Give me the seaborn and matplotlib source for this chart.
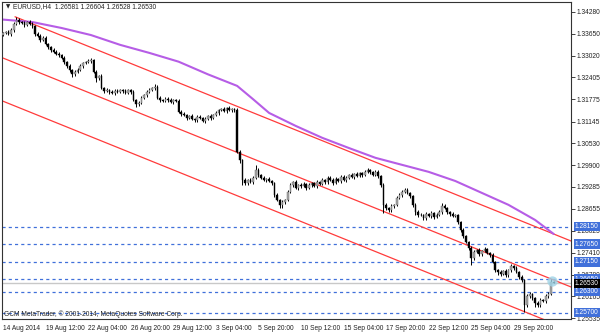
import matplotlib
matplotlib.use("Agg")
import matplotlib.pyplot as plt
import matplotlib.transforms as mtransforms
import numpy as np
import pandas as pd
import seaborn as sns

# ---------------- data ----------------
symbol_text = "EURUSD,H4  1.26581 1.26604 1.26528 1.26530"
copyright_text = "GCM MetaTrader, \u00a9 2001-2014, MetaQuotes Software Corp."

first_open = 1.3362
closes = [
    1.3367, 1.3370, 1.3364, 1.3375, 1.3393, 1.3404, 1.3398, 1.3395, 1.3390, 1.3398, 1.3393, 1.3387, 1.3364, 1.3358, 1.3347, 1.3353,
    1.3336, 1.3327, 1.3318, 1.3313, 1.3307, 1.3304, 1.3296, 1.3284, 1.3273, 1.3261, 1.3250, 1.3256, 1.3261, 1.3273, 1.3281, 1.3284,
    1.3287, 1.3290, 1.3256, 1.3239, 1.3244, 1.3210, 1.3202, 1.3204, 1.3199, 1.3196, 1.3202, 1.3199, 1.3204, 1.3202, 1.3196, 1.3204,
    1.3199, 1.3176, 1.3165, 1.3167, 1.3182, 1.3190, 1.3199, 1.3204, 1.3210, 1.3213, 1.3182, 1.3176, 1.3173, 1.3179, 1.3176, 1.3170,
    1.3176, 1.3173, 1.3142, 1.3136, 1.3133, 1.3125, 1.3130, 1.3122, 1.3119, 1.3128, 1.3125, 1.3116, 1.3122, 1.3130, 1.3125, 1.3133,
    1.3139, 1.3147, 1.3150, 1.3145, 1.3153, 1.3147, 1.3150, 1.3147, 1.3028, 1.3005, 1.2948, 1.2939, 1.2948, 1.2942, 1.2954, 1.2976,
    1.2962, 1.2954, 1.2948, 1.2951, 1.2945, 1.2939, 1.2905, 1.2891, 1.2877, 1.2885, 1.2891, 1.2914, 1.2934, 1.2942, 1.2925, 1.2934,
    1.2931, 1.2937, 1.2925, 1.2934, 1.2939, 1.2931, 1.2942, 1.2937, 1.2948, 1.2942, 1.2954, 1.2948, 1.2939, 1.2951, 1.2945, 1.2957,
    1.2948, 1.2954, 1.2962, 1.2957, 1.2965, 1.2959, 1.2968, 1.2962, 1.2971, 1.2976, 1.2971, 1.2962, 1.2971, 1.2959, 1.2934, 1.2877,
    1.2868, 1.2862, 1.2874, 1.2877, 1.2897, 1.2905, 1.2914, 1.2919, 1.2911, 1.2902, 1.2877, 1.2857, 1.2848, 1.2848, 1.2840, 1.2851,
    1.2845, 1.2854, 1.2843, 1.2848, 1.2857, 1.2874, 1.2868, 1.2857, 1.2851, 1.2845, 1.2848, 1.2828, 1.2805, 1.2788, 1.2771, 1.2754,
    1.2726, 1.2743, 1.2748, 1.2737, 1.2746, 1.2751, 1.2740, 1.2734, 1.2714, 1.2691, 1.2686, 1.2680, 1.2688, 1.2677, 1.2691, 1.2703,
    1.2697, 1.2686, 1.2672, 1.2663, 1.2592, 1.2617, 1.2623, 1.2612, 1.2597, 1.2592, 1.2606, 1.2603, 1.2617, 1.2623, 1.2658, 1.2653,
]
upper_wick_pips = [
    4, 3, 5, 6, 4, 9, 5, 4, 6, 3, 5, 4, 3, 5, 6, 4,
    5, 3, 4, 6, 4, 5, 3, 6, 4, 5, 3, 4, 6, 5, 4, 3,
    5, 6, 4, 5, 3, 6, 4, 5, 3, 6, 4, 5, 4, 3, 5, 4,
    3, 6, 4, 5, 4, 3, 5, 6, 4, 9, 5, 4, 3, 6, 4, 5,
    4, 3, 6, 4, 5, 3, 4, 6, 3, 5, 4, 3, 6, 4, 5, 4,
    5, 4, 3, 6, 4, 5, 3, 4, 5, 6, 4, 5, 3, 6, 4, 15,
    5, 4, 6, 3, 5, 4, 3, 5, 4, 6, 4, 5, 6, 4, 5, 3,
    4, 6, 3, 5, 4, 3, 6, 4, 5, 3, 4, 6, 5, 4, 3, 5,
    4, 5, 3, 6, 4, 5, 3, 4, 6, 5, 4, 3, 5, 4, 3, 4,
    5, 4, 6, 3, 5, 6, 4, 5, 6, 3, 4, 5, 4, 6, 3, 5,
    4, 5, 3, 6, 4, 7, 5, 4, 3, 5, 4, 3, 4, 5, 3, 4,
    6, 5, 4, 6, 3, 5, 4, 3, 5, 4, 3, 6, 4, 5, 4, 6,
    4, 5, 3, 4, 3, 6, 5, 4, 3, 5, 6, 4, 5, 6, 7, 2,
]
lower_wick_pips = [
    5, 4, 3, 5, 4, 3, 6, 4, 5, 3, 4, 5, 6, 4, 5, 3,
    4, 5, 6, 3, 4, 5, 4, 6, 5, 4, 8, 5, 4, 3, 5, 4,
    3, 5, 4, 12, 5, 4, 5, 3, 6, 4, 5, 3, 4, 5, 4, 3,
    5, 4, 9, 5, 4, 3, 5, 4, 3, 5, 4, 6, 4, 3, 5, 4,
    5, 4, 3, 6, 4, 5, 3, 4, 6, 5, 4, 3, 5, 4, 6, 3,
    4, 5, 3, 4, 5, 3, 4, 5, 4, 8, 14, 5, 6, 4, 5, 4,
    5, 4, 3, 6, 4, 5, 6, 4, 9, 8, 5, 4, 3, 5, 4, 6,
    5, 4, 6, 3, 5, 4, 6, 3, 4, 5, 6, 4, 5, 3, 4, 6,
    4, 5, 3, 4, 5, 4, 3, 5, 4, 3, 5, 4, 3, 6, 5, 23,
    6, 5, 4, 5, 3, 4, 5, 4, 3, 5, 6, 8, 5, 4, 6, 5,
    4, 5, 6, 3, 4, 5, 4, 6, 5, 4, 3, 5, 6, 5, 4, 6,
    20, 5, 4, 6, 5, 4, 3, 5, 4, 6, 8, 5, 4, 6, 5, 4,
    5, 4, 6, 5, 20, 6, 5, 5, 10, 6, 5, 4, 6, 5, 4, 0,
]

x_tick_bars = [0, 16, 32, 48, 64, 80, 96, 112, 128, 144, 160, 176, 192]
x_tick_labels = ["14 Aug 2014", "19 Aug 12:00", "22 Aug 04:00", "26 Aug 20:00",
                 "29 Aug 12:00", "3 Sep 04:00", "5 Sep 20:00", "10 Sep 12:00",
                 "15 Sep 04:00", "17 Sep 20:00", "22 Sep 12:00", "25 Sep 04:00",
                 "29 Sep 20:00"]
price_ticks = [1.34280, 1.33650, 1.33020, 1.32405, 1.31775, 1.31145, 1.30530,
               1.29900, 1.29285, 1.28655, 1.28025, 1.27410, 1.26780, 1.26165, 1.25535]

ma_bars = [0, 11, 22, 33, 44, 55, 66, 77, 88, 94, 100, 110, 120, 130, 140,
           150, 160, 170, 180, 190, 200, 207]
ma_values = [1.3405, 1.3398, 1.3381, 1.3361, 1.3333, 1.3310, 1.3285, 1.3249,
             1.3216, 1.3178, 1.3139, 1.3102, 1.3068, 1.3039, 1.3011, 1.2991,
             1.2971, 1.2945, 1.2911, 1.2877, 1.2834, 1.2794]

channel_start_bars = [4.5, -1.2, -1.2]
channel_start_prices = [1.3413, 1.3299, 1.3176]
channel_end_bars = [213.5, 213.5, 213.5]
channel_end_prices = [1.2774, 1.2643, 1.2519]

level_prices = [1.28150, 1.27650, 1.27150, 1.26650, 1.26300, 1.25700]
current_price = 1.26530

# ---------------- build table ----------------
opens = [first_open] + closes[:-1]
df = pd.DataFrame({"open": opens, "close": closes,
                   "uw": upper_wick_pips, "lw": lower_wick_pips})
df["bar"] = np.arange(len(df))
df["high"] = df[["open", "close"]].max(axis=1) + df["uw"] * 0.0001
df["low"] = df[["open", "close"]].min(axis=1) - df["lw"] * 0.0001
df["bull"] = df["close"] >= df["open"]

# ---------------- style ----------------
sns.set_style("white")
plt.rcParams["font.family"] = ["Liberation Sans", "DejaVu Sans"]
FS = 4.8

W, H = 600, 333
fig = plt.figure(figsize=(6, 3.33), dpi=100)
ax = fig.add_axes([2 / W, 14 / H, 569 / W, 317 / H])
ax.set_xlim(-0.4, 213.5)
ax.set_ylim(1.25517, 1.34551)

BLUE = "#4070DA"
RED = "#FF3B3B"
PURPLE = "#B65DE6"

# horizontal levels
for lv in level_prices:
    ax.axhline(lv, color=BLUE, lw=0.9, linestyle=(0, (2.5, 2.5)), zorder=1)
ax.axhline(current_price, color="#C8C8C8", lw=1.0, zorder=1)

# channel
for sb, sp, eb, ep in zip(channel_start_bars, channel_start_prices,
                          channel_end_bars, channel_end_prices):
    ax.plot([sb, eb], [sp, ep], color=RED, lw=0.9, zorder=2)

# moving average
sns.lineplot(x=ma_bars, y=ma_values, ax=ax, color=PURPLE, lw=1.5, zorder=2)

# candles
ax.vlines(df["bar"], df["low"], df["high"], color="black", lw=0.7, zorder=3)
bodies_h = (df["close"] - df["open"]).abs().clip(lower=0.00003)
bottoms = df[["open", "close"]].min(axis=1)
colors = np.where(df["bull"], "#A8A8A8", "#000000")
edges = np.where(df["bull"], "#606060", "#000000")
ax.bar(df["bar"], bodies_h, bottom=bottoms, width=0.62, color=colors,
       edgecolor=edges, linewidth=0.3, zorder=4)

# last-bar highlight
ax.scatter([df["bar"].iloc[-1] - 0.5], [df["high"].iloc[-1]], s=55,
           color="#9FD3E6", alpha=0.8, zorder=5, linewidths=0)

# axes, ticks
for s in ax.spines.values():
    s.set_color("#333333")
    s.set_linewidth(0.8)
ax.yaxis.tick_right()
ax.set_yticks(price_ticks)
ax.set_yticklabels([f"{p:.5f}" for p in price_ticks])
ax.set_xticks(x_tick_bars)
ax.set_xticklabels(x_tick_labels, ha="left")
ax.tick_params(axis="both", which="both", direction="out", length=3,
               width=0.6, labelsize=FS, pad=1.2, colors="#222222")
ax.set_xlabel("")
ax.set_ylabel("")

# price labels on right axis
trans = mtransforms.blended_transform_factory(ax.transAxes, ax.transData)
for lv in level_prices:
    ax.text(1.0 + 4 / 569, lv, f"{lv:.5f}", transform=trans, ha="left",
            va="center", fontsize=FS, color="white", clip_on=False, zorder=10,
            bbox=dict(boxstyle="square,pad=0.2", facecolor=BLUE,
                      edgecolor="none"))
ax.text(1.0 + 4 / 569, current_price, f"{current_price:.5f}", transform=trans,
        ha="left", va="center", fontsize=FS, color="white", clip_on=False,
        zorder=11, bbox=dict(boxstyle="square,pad=0.2", facecolor="black",
                             edgecolor="none"))

# header and footer texts
fig.text(6 / W, 1 - 7 / H, "\u25bc", fontsize=4, va="center",
         family=["DejaVu Sans"], color="#222222")
fig.text(13 / W, 1 - 7 / H, symbol_text, fontsize=FS, va="center",
         color="#222222")
fig.text(4 / W, 1 - 314 / H, copyright_text, fontsize=FS, va="center",
         color="#222222")

fig.savefig("out.png", dpi=100)
